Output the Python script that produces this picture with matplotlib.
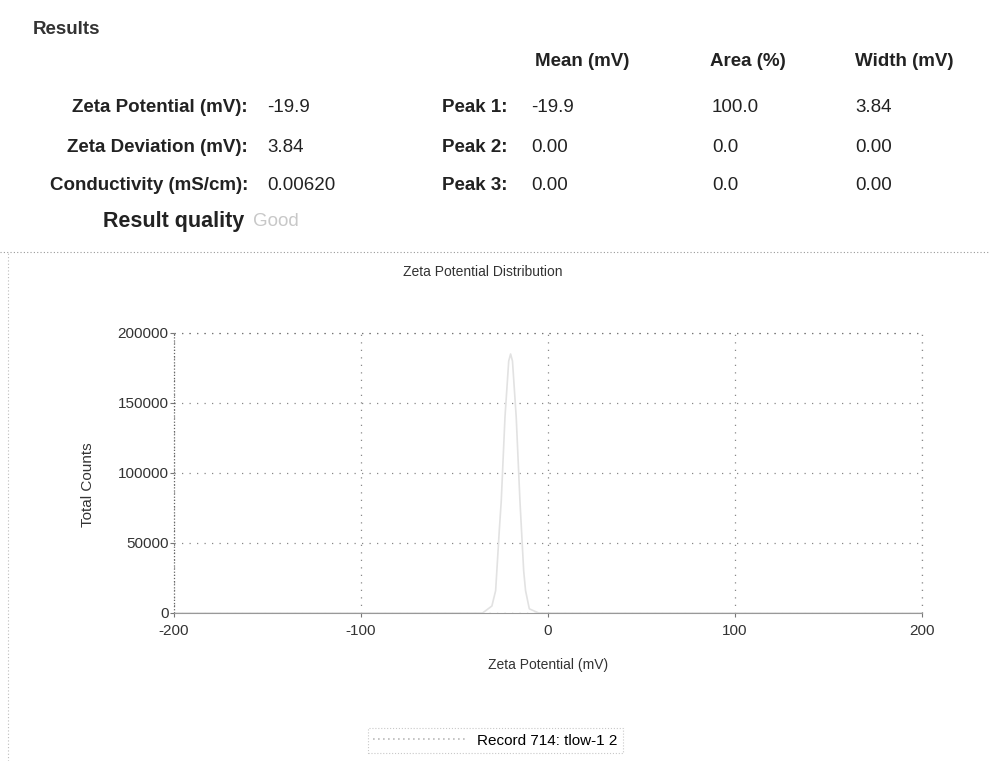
import matplotlib
matplotlib.use("Agg")
import matplotlib.pyplot as plt
from matplotlib.lines import Line2D

plt.rcParams["font.family"] = ["Liberation Sans", "DejaVu Sans"]

# summary table
summary_labels = ["Zeta Potential (mV):", "Zeta Deviation (mV):", "Conductivity (mS/cm):"]
summary_values = ["-19.9", "3.84", "0.00620"]
peak_labels = ["Peak 1:", "Peak 2:", "Peak 3:"]
peak_mean = ["-19.9", "0.00", "0.00"]
peak_area = ["100.0", "0.0", "0.0"]
peak_width = ["3.84", "0.00", "0.00"]
col_headers = ["Mean (mV)", "Area (%)", "Width (mV)"]

# distribution curve
zeta_mv = [-200, -35, -30, -28, -26, -25, -23, -21, -20, -19, -17, -15, -13, -12, -10, -5, 200]
counts = [0, 0, 5000, 16000, 60000, 80000, 140000, 180000, 185000, 180000, 140000,
          80000, 30000, 16000, 3000, 0, 0]

x_ticks = [-200, -100, 0, 100, 200]
y_ticks = [0, 50000, 100000, 150000, 200000]

W, H = 990, 761
fig = plt.figure(figsize=(9.9, 7.61), dpi=100)


def px(x, y):
    return x / W, 1 - y / H


txt = "#222222"
fs = 13.5
fig.text(*px(33, 30), "Results", fontsize=fs, fontweight="bold", color="#333", va="center")

col_x = [535, 710, 855]
for cx, h in zip(col_x, col_headers):
    fig.text(*px(cx, 62), h, fontsize=fs, fontweight="bold", color=txt, va="center")

rows_y = [108, 147, 185]
for i, ry in enumerate(rows_y):
    fig.text(*px(248, ry), summary_labels[i], fontsize=fs, fontweight="bold",
             color=txt, ha="right", va="center")
    fig.text(*px(267, ry), summary_values[i], fontsize=fs, color=txt, va="center")
    fig.text(*px(442, ry), peak_labels[i], fontsize=fs, fontweight="bold",
             color=txt, va="center")
    fig.text(*px(531, ry), peak_mean[i], fontsize=fs, color=txt, va="center")
    fig.text(*px(712, ry), peak_area[i], fontsize=fs, color=txt, va="center")
    fig.text(*px(855, ry), peak_width[i], fontsize=fs, color=txt, va="center")

fig.text(*px(103, 221), "Result quality", fontsize=15.5, fontweight="bold", color=txt, va="center")
fig.text(*px(253, 221), "Good", fontsize=fs, color="#c8c8c8", va="center")

# panel separators
dots = (0, (1, 2))
fig.add_artist(Line2D([0, 1], [1 - 252 / H] * 2, color="#999", lw=0.8, ls=dots))
fig.add_artist(Line2D([8 / W] * 2, [0, 1 - 252 / H], color="#bbb", lw=0.8, ls=dots))

fig.text(*px(483, 272), "Zeta Potential Distribution", fontsize=10, color="#333",
         ha="center", va="center")

ax = fig.add_axes([174 / W, 1 - 613 / H, 748 / W, 280 / H])
ax.plot(zeta_mv, counts, color="#e2e2e2", lw=1.2, label="Record 714: tlow-1 2")
ax.set_xlim(-200, 200)
ax.set_ylim(0, 200000)
ax.set_xticks(x_ticks)
ax.set_yticks(y_ticks)
ax.set_xticklabels([str(v) for v in x_ticks], fontsize=11, color="#333")
ax.set_yticklabels([str(v) for v in y_ticks], fontsize=11, color="#333")
ax.tick_params(length=3, width=0.8, color="#777")
ax.tick_params(axis="y", pad=1)
ax.tick_params(axis="x", pad=5)
for s in ax.spines.values():
    s.set_visible(False)
ax.grid(True, color="#888", lw=0.9, ls=(0, (1, 5)))
ax.axvline(-200, color="#666", lw=0.9, ls=(0, (1, 1.5)), clip_on=False)
ax.axvline(200, color="#888", lw=0.9, ls=(0, (1, 5)), clip_on=False)
ax.axhline(200000, color="#777", lw=0.9, ls=(0, (1, 5)), clip_on=False)
ax.axhline(0, color="#999", lw=0.8, clip_on=False)
ax.set_xlabel("Zeta Potential (mV)", fontsize=10, color="#333")
ax.set_ylabel("Total Counts", fontsize=11, color="#333")
ax.xaxis.set_label_coords(0.5, -0.16)
ax.yaxis.set_label_coords(-0.105, 0.46)

leg = fig.legend(loc="lower right", bbox_to_anchor=(623 / W, 1 - 753 / H), fontsize=11,
                 frameon=True, fancybox=False, handlelength=6, borderpad=0.35,
                 borderaxespad=0)
leg.get_frame().set_edgecolor("#bbbbbb")
leg.get_frame().set_linestyle(":")
leg.get_frame().set_linewidth(0.8)
leg.get_lines()[0].set_linestyle((0, (1, 2)))
leg.get_lines()[0].set_color("#bbbbbb")

fig.savefig("out.png", dpi=100, facecolor="white")
